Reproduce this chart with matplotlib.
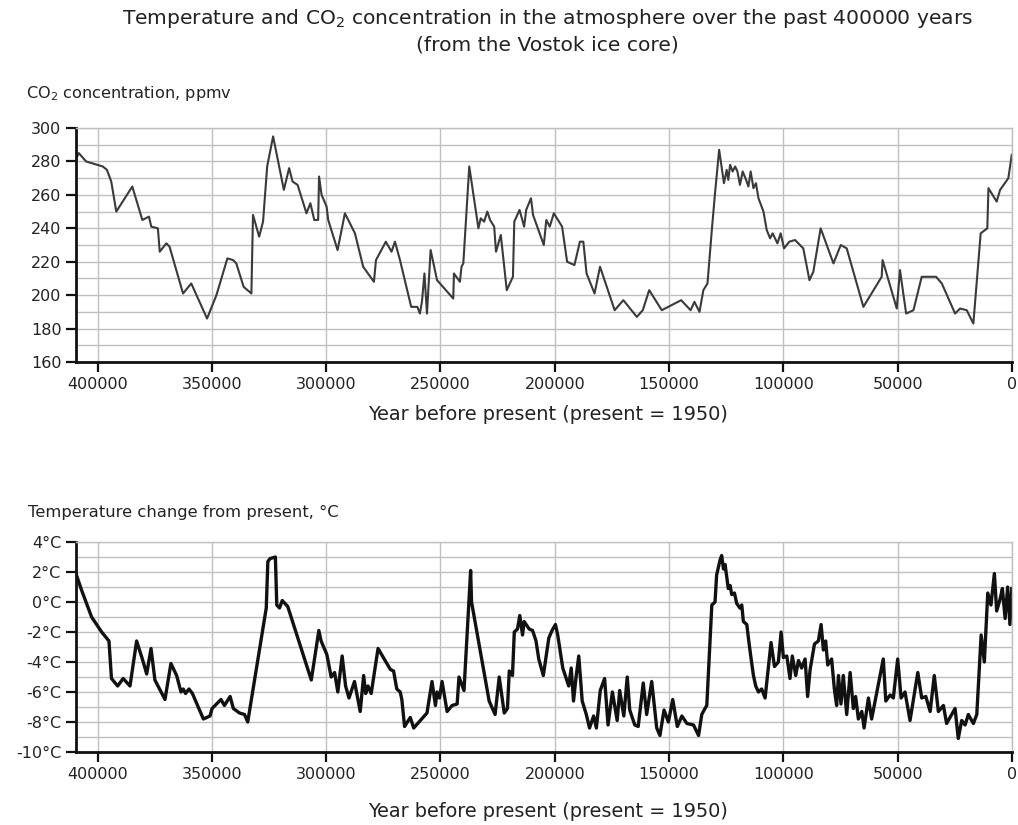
import numpy as np
import matplotlib.pyplot as plt
from matplotlib.ticker import MultipleLocator, FuncFormatter

plt.rcParams["font.family"] = ["DejaVu Sans"]
plt.rcParams["mathtext.default"] = "regular"

# Vostok ice core, CO2 (ppmv) by years before present
co2_years = [409600, 408200, 405000, 397700, 395900, 394000, 391800, 384800, 380400,
             377500, 376500, 373600, 372800, 369900, 368500, 362600, 359000, 352100,
             348000, 343200, 340700, 339300, 336100, 332700, 332000, 329300, 327600,
             325800, 323200, 318500, 316200, 314700, 312500, 308600, 306900, 305200,
             303500, 303100, 302000, 299800, 299100, 295000, 291800, 287400, 283800,
             279100, 278200, 273900, 271400, 269900, 267700, 262800, 260100, 259000,
             258100, 257000, 255900, 254300, 251500, 244400, 244100, 241500, 240800,
             240000, 237400, 233400, 232400, 230900, 229500, 228300, 226500, 225700,
             223600, 221000, 218300, 217700, 215400, 213400, 212500, 210400, 209500,
             204800, 203700, 202200, 200400, 196800, 194600, 191400, 189000, 187500,
             186100, 182600, 180200, 173800, 170000, 164100, 161500, 158700, 153200,
             144700, 140600, 138900, 136700, 135000, 133200, 131300, 129900, 128100,
             126000, 124800, 124100, 123300, 122200, 121100, 120100, 119000, 117800,
             116300, 115300, 114300, 113100, 112000, 110900, 108700, 107300, 105800,
             104700, 102600, 101200, 99700, 97400, 94900, 91300, 88600, 86900,
             83700, 78100, 74900, 72300, 65000, 57000, 56600, 50400, 49000,
             46300, 43100, 39500, 33200, 30700, 24900, 22700, 19800, 16900,
             13700, 10800, 10300, 6700, 5200, 1600, 100]
co2_ppmv = [281, 285, 280, 277, 275, 268, 250, 265, 245,
            247, 241, 240, 226, 231, 229, 201, 207, 186,
            200, 222, 221, 219, 205, 201, 248, 235, 244,
            277, 295, 263, 276, 268, 266, 249, 255, 245,
            245, 271, 260, 253, 245, 227, 249, 237, 217,
            208, 221, 232, 226, 232, 221, 193, 193, 189,
            196, 213, 189, 227, 209, 198, 213, 208, 217,
            219, 277, 240, 246, 244, 250, 245, 241, 226,
            236, 203, 211, 244, 251, 241, 251, 258, 248,
            230, 245, 241, 249, 241, 220, 218, 232, 232,
            213, 201, 217, 191, 197, 187, 191, 203, 191,
            197, 191, 196, 190, 203, 207, 239, 261, 287,
            267, 275, 269, 278, 274, 277, 274, 266, 274,
            269, 265, 274, 264, 267, 258, 250, 239, 234,
            237, 231, 237, 228, 232, 233, 228, 209, 214,
            240, 219, 230, 228, 193, 211, 221, 192, 215,
            189, 191, 211, 211, 207, 189, 192, 191, 183,
            237, 240, 264, 256, 263, 270, 284]

# Temperature change from present (deg C) by years before present
temp_years = [409900, 407000, 402600, 398200, 395000, 393900, 391200, 388800, 385800,
              382900, 380400, 378500, 376600, 374900, 370500, 367900, 365400, 363500,
              362500, 361500, 360000, 358500, 353700, 350800, 349900, 346000, 344500,
              342000, 340600, 337900, 335700, 334300, 326200, 325500, 324500, 322200,
              321600, 320400, 319200, 316800, 306500, 303200, 302200, 299700, 297800,
              296300, 294900, 293000, 291500, 290000, 287600, 285100, 283600, 282700,
              281700, 280300, 277300, 271900, 270500, 269100, 267600, 266900, 265700,
              263200, 261700, 255900, 253700, 252200, 251500, 250400, 249300, 247100,
              244900, 242700, 241900, 239700, 236800, 236400, 228700, 226100, 224300,
              222100, 220700, 219900, 218500, 217700, 216300, 215300, 214100, 213400,
              211200, 209700, 208200, 207000, 205000, 202600, 201200, 199700, 198700,
              196500, 193900, 192800, 191800, 190600, 189500, 188000, 186200, 184800,
              183000, 181800, 180100, 178200, 176700, 174800, 172700, 171600, 169800,
              168300, 167200, 165000, 163500, 161300, 159800, 157600, 155400, 154000,
              152200, 150300, 148400, 146400, 144400, 142200, 139300, 137100, 135700,
              134300, 133500, 131300, 129900, 129200, 127700, 127000, 126200, 125500,
              124100, 123300, 122600, 121400, 120400, 119000, 118200, 117500, 116000,
              115300, 114100, 113100, 112100, 110900, 109500, 108000, 105400, 103900,
              102200, 101000, 100000, 98500, 97100, 96100, 94600, 93400, 92000,
              90500, 89400, 88300, 86400, 84700, 83500, 82500, 81500, 80600,
              78900, 77700, 76700, 75900, 74800, 73800, 72300, 70800, 69400,
              68400, 67200, 65700, 64700, 62800, 61400, 56300, 55200, 53300,
              51900, 50000, 48500, 46800, 44600, 41200, 39500, 37700, 35800,
              34000, 32200, 30000, 28600, 26400, 24900, 23500, 22000, 20500,
              19100, 16900, 15400, 13500, 12100, 10600, 9200, 7700, 6700,
              5200, 4200, 3000, 1900, 900, 100]
temp_change = [2.1, 0.8, -1.0, -2.0, -2.6, -5.1, -5.6, -5.1, -5.6,
               -2.6, -3.8, -4.8, -3.1, -5.2, -6.5, -4.1, -4.9, -6.0,
               -5.8, -6.1, -5.8, -6.1, -7.8, -7.6, -7.1, -6.5, -6.9,
               -6.3, -7.1, -7.4, -7.5, -8.0, -0.4, 2.7, 2.9, 3.0,
               -0.2, -0.4, 0.1, -0.3, -5.2, -1.9, -2.6, -3.5, -5.0,
               -4.7, -6.0, -3.6, -5.6, -6.4, -5.3, -7.3, -4.9, -6.1,
               -5.6, -6.1, -3.1, -4.5, -4.6, -5.8, -6.0, -6.5, -8.3,
               -7.7, -8.4, -7.4, -5.3, -6.9, -6.0, -6.4, -5.3, -7.3,
               -6.9, -6.8, -5.0, -5.9, 2.1, 0.0, -6.6, -7.5, -5.0,
               -7.4, -7.1, -4.6, -4.9, -2.0, -1.8, -0.9, -2.2, -1.3,
               -1.8, -1.9, -2.6, -3.8, -4.9, -2.4, -1.9, -1.5, -2.2,
               -4.4, -5.6, -4.4, -6.6, -4.9, -3.6, -6.6, -7.5, -8.4,
               -7.6, -8.4, -5.9, -5.1, -8.2, -6.0, -7.9, -5.9, -7.6,
               -5.0, -7.2, -8.2, -8.3, -5.4, -7.5, -5.3, -8.4, -8.9,
               -7.2, -8.0, -6.5, -8.3, -7.6, -8.1, -8.2, -8.9, -7.5,
               -7.1, -6.9, -0.2, 0.0, 1.8, 2.8, 3.1, 2.2, 2.5,
               0.9, 1.1, 0.5, 0.6, -0.1, -0.4, -0.2, -1.3, -1.5,
               -2.4, -3.8, -4.9, -5.6, -6.0, -5.8, -6.4, -2.7, -4.3,
               -4.0, -2.0, -3.7, -3.6, -5.1, -3.6, -4.9, -3.9, -4.4,
               -3.8, -6.3, -4.5, -2.8, -2.6, -1.5, -3.2, -2.6, -4.2,
               -3.8, -5.8, -6.9, -4.9, -6.8, -4.9, -7.5, -4.7, -7.1,
               -6.3, -7.8, -7.3, -8.4, -6.4, -7.8, -3.8, -6.6, -6.2,
               -6.4, -3.8, -6.4, -6.0, -7.9, -4.7, -6.4, -6.3, -7.3,
               -4.9, -7.3, -6.9, -8.1, -7.5, -7.1, -9.1, -7.9, -8.2,
               -7.5, -8.1, -7.5, -2.2, -4.0, 0.6, -0.2, 1.9, -0.6,
               0.2, 0.9, -1.1, 1.0, -1.5, 0.9]

X_LEFT = 409400
GRID_COLOR = "#c0c0c0"
TEXT_COLOR = "#222222"


def style_axis(ax, major, minor, fmt):
    ax.set_xlim(X_LEFT, 0)
    ax.xaxis.set_major_locator(MultipleLocator(50000))
    ax.xaxis.set_major_formatter(FuncFormatter(lambda v, p: f"{int(v)}"))
    ax.yaxis.set_major_locator(MultipleLocator(major))
    ax.yaxis.set_minor_locator(MultipleLocator(minor))
    ax.yaxis.set_major_formatter(FuncFormatter(fmt))
    ax.grid(True, which="both", axis="y", color=GRID_COLOR, linewidth=1.0)
    ax.grid(True, which="major", axis="x", color=GRID_COLOR, linewidth=1.0)
    ax.tick_params(axis="y", which="minor", length=0)
    ax.tick_params(axis="both", which="major", length=7, width=1.6,
                   labelsize=11.5, labelcolor=TEXT_COLOR, color="#111111")
    for side in ("top", "right"):
        ax.spines[side].set_color(GRID_COLOR)
        ax.spines[side].set_linewidth(1.0)
    for side in ("left", "bottom"):
        ax.spines[side].set_color("#111111")
        ax.spines[side].set_linewidth(2.0)
    ax.set_axisbelow(True)


fig = plt.figure(figsize=(10.18, 8.25), dpi=100)

# CO2 panel
ax_co2 = fig.add_axes([0.0747, 0.5612, 0.9194, 0.2836])
ax_co2.plot(co2_years, co2_ppmv, color="#3a3a3a", linewidth=1.5)
ax_co2.set_ylim(160, 300)
style_axis(ax_co2, 20, 10, lambda v, p: f"{int(v)}")

# Temperature panel
ax_t = fig.add_axes([0.0747, 0.0885, 0.9194, 0.2545])
ax_t.plot(temp_years, temp_change, color="#111111", linewidth=2.4)
ax_t.set_ylim(-10, 4)
style_axis(ax_t, 2, 1, lambda v, p: f"{int(v)}°C")

# Titles and labels
fig.text(0.538, 0.978,
         "Temperature and CO$_2$ concentration in the atmosphere over the past 400000 years",
         ha="center", va="center", fontsize=14.6, color=TEXT_COLOR)
fig.text(0.538, 0.945, "(from the Vostok ice core)",
         ha="center", va="center", fontsize=14.6, color=TEXT_COLOR)
fig.text(0.0255, 0.887, "CO$_2$ concentration, ppmv", ha="left", va="center",
         fontsize=11.6, color=TEXT_COLOR)
fig.text(0.0275, 0.379, "Temperature change from present, °C", ha="left", va="center",
         fontsize=11.8, color=TEXT_COLOR)
fig.text(0.538, 0.498, "Year before present (present = 1950)", ha="center",
         va="center", fontsize=13.9, color=TEXT_COLOR)
fig.text(0.538, 0.016, "Year before present (present = 1950)", ha="center",
         va="center", fontsize=13.9, color=TEXT_COLOR)

fig.savefig("out.png", dpi=100)
